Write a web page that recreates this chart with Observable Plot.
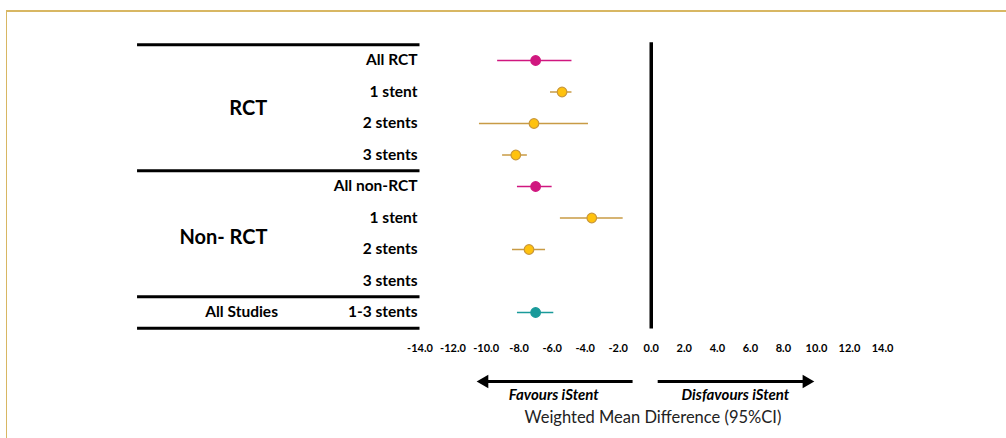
<!DOCTYPE html>
<html>
<head>
<meta charset="utf-8">
<script src="https://cdn.jsdelivr.net/npm/d3@7"></script>
<script src="https://cdn.jsdelivr.net/npm/@observablehq/plot@0.6"></script>
<style>
  html, body { margin: 0; padding: 0; background: #fff; }
  #wrap { position: relative; width: 1006px; height: 438px; overflow: hidden; }
  #frame { position: absolute; left: 6px; top: 10px; width: 1010px; height: 440px;
           border-top: 2px solid #D8B763; border-left: 1.5px solid #D8B763; box-sizing: border-box; }
  #chart { position: absolute; left: 0; top: 0; }
</style>
</head>
<body>
<div id="wrap"><div id="frame"></div><div id="chart"></div></div>
<script>
// ---- data ----
const rowLabels = ["All RCT", "1 stent", "2 stents", "3 stents", "All non-RCT", "1 stent", "2 stents", "3 stents", "1-3 stents"];
const estimates = [-7.0, -5.4, -7.1, -8.2, -7.0, -3.6, -7.4, null, -7.0];
const lowerCI   = [-9.3, -6.1, -10.4, -9.0, -8.1, -5.5, -8.4, null, -8.1];
const upperCI   = [-4.8, -4.8, -3.8, -7.5, -6.0, -1.7, -6.4, null, -5.9];
const rowKind   = ["all", "stent", "stent", "stent", "all", "stent", "stent", "stent", "total"];
const groupLabels = ["RCT", "Non- RCT", "All Studies"];
const tickValues = [-14, -12, -10, -8, -6, -4, -2, 0, 2, 4, 6, 8, 10, 12, 14];
const tickLabels = ["-14.0", "-12.0", "-10.0", "-8.0", "-6.0", "-4.0", "-2.0", "0.0", "2.0", "4.0", "6.0", "8.0", "10.0", "12.0", "14.0"];
const favourLabels = ["Favours iStent", "Disfavours iStent"];
const axisTitle = "Weighted Mean Difference (95%CI)";

// ---- derived table ----
const rows = rowLabels.map((label, i) => ({
  i, label, est: estimates[i], lo: lowerCI[i], hi: upperCI[i], kind: rowKind[i]
}));
const shown = rows.filter(d => d.est != null);

const lineColor = {all: "#D0177F", stent: "#C89B45", total: "#1A9A9A"};
const dotFill   = {all: "#D0177F", stent: "#FFC20E", total: "#1A9A9A"};
const dotStroke = {all: "#D0177F", stent: "#C9973A", total: "#1A9A9A"};

const font = "Lato, 'Open Sans', sans-serif";

const groups = [
  {text: groupLabels[0], x: -24.4, y: 1.52, size: 20},
  {text: groupLabels[1], x: -25.9, y: 5.62, size: 20},
  {text: groupLabels[2], x: -24.8, y: 8, size: 15.5}
];
const ticks = tickValues.map((v, k) => ({v, t: tickLabels[k]}));
const hRules = [-0.5, 3.5, 7.5, 8.5];

const chart = Plot.plot({
  width: 1006,
  height: 438,
  margin: 0,
  style: {fontFamily: font, background: "transparent", overflow: "visible"},
  x: {domain: [-14, 14], range: [419.5, 882], axis: null},
  y: {domain: [0, 8], range: [60, 312], axis: null},
  marks: [
    // table rules
    Plot.ruleY(hRules, {y: d => d, x1: -31.1, x2: -14.0, stroke: "black", strokeWidth: 3}),
    // zero line
    Plot.ruleX([0], {y1: -0.56, y2: 8.52, stroke: "black", strokeWidth: 3.5}),
    // row labels
    Plot.text(rows, {x: -14.15, y: "i", text: "label", textAnchor: "end", fontSize: 15.5, fontWeight: "bold", fill: "black"}),
    // group labels
    Plot.text(groups, {x: "x", y: "y", text: "text", fontSize: d => d.size, fontWeight: "bold", fill: "black"}),
    // CI lines
    Plot.ruleY(shown, {y: "i", x1: "lo", x2: "hi", stroke: d => lineColor[d.kind], strokeWidth: 1.5}),
    // point estimates
    Plot.dot(shown, {x: "est", y: "i", r: 4.8, fill: d => dotFill[d.kind], stroke: d => dotStroke[d.kind], strokeWidth: 1.2}),
    // tick labels
    Plot.text(ticks, {x: "v", y: 9.14, text: "t", fontSize: 11, fontWeight: "bold", fill: "black"}),
    // arrows
    Plot.ruleY([10.19], {x1: -1.1, x2: -10.0, stroke: "black", strokeWidth: 3}),
    Plot.ruleY([10.19], {x1: 0.42, x2: 9.3, stroke: "black", strokeWidth: 3}),
    Plot.dot([{x: -10.1, r: -90}, {x: 9.4, r: 90}], {x: "x", y: 10.19, symbol: "triangle", rotate: "r", r: 5, fill: "black", stroke: "none"}),
    Plot.text([{t: favourLabels[0], x: -5.9}, {t: favourLabels[1], x: 5.1}], {x: "x", y: 10.64, text: "t", fontSize: 15, fontWeight: "bold", fontStyle: "italic", fill: "black"}),
    Plot.text([axisTitle], {x: 0.1, y: 11.35, text: d => d, fontSize: 16.5, fill: "#222"})
  ]
});
document.getElementById("chart").appendChild(chart);
</script>
</body>
</html>
